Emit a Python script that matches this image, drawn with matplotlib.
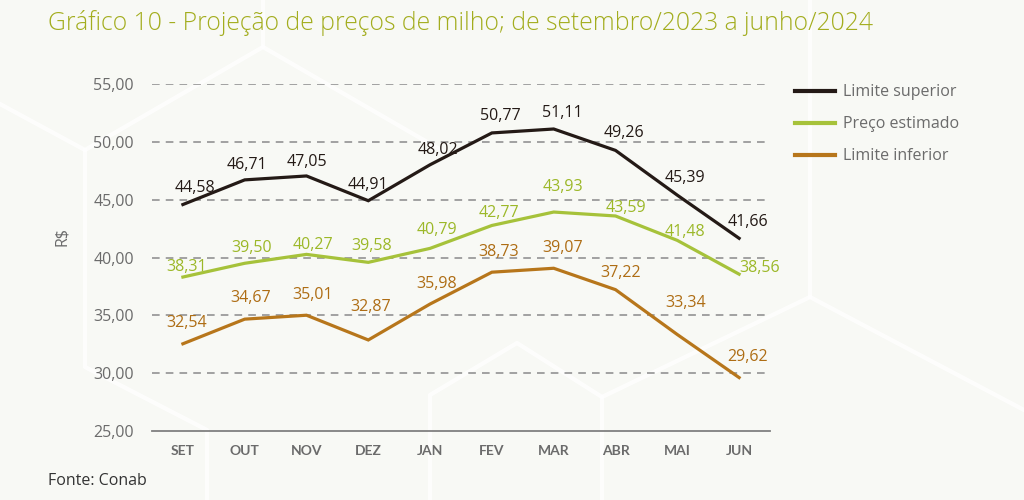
import matplotlib.pyplot as plt
import numpy as np

plt.rcParams['font.family'] = ['Open Sans', 'DejaVu Sans']

meses = ['SET', 'OUT', 'NOV', 'DEZ', 'JAN', 'FEV', 'MAR', 'ABR', 'MAI', 'JUN']
limite_superior = [44.58, 46.71, 47.05, 44.91, 48.02, 50.77, 51.11, 49.26, 45.39, 41.66]
preco_estimado = [38.31, 39.50, 40.27, 39.58, 40.79, 42.77, 43.93, 43.59, 41.48, 38.56]
limite_inferior = [32.54, 34.67, 35.01, 32.87, 35.98, 38.73, 39.07, 37.22, 33.34, 29.62]

# label offsets in pixels (dx, dy)
off_sup = [(12, 17), (2, 15), (0, 14), (0, 16), (8, 15), (8, 17), (9, 16), (8, 17), (8, 17), (9, 16)]
off_est = [(4, 10), (7, 15), (6, 9), (3, 16), (7, 18), (7, 12), (9, 25), (10, 8), (8, 8), (21, 6)]
off_inf = [(4, 21), (6, 21), (6, 20), (2, 33), (7, 20), (7, 20), (9, 20), (5, 17), (8, 32), (8, 21)]

cor_sup = '#241a16'
cor_est = '#a6c23a'
cor_inf = '#b7761b'
cor_txt_est = '#9cb828'
cor_txt_inf = '#ae6d14'
cinza = '#6b6b6b'

fig = plt.figure(figsize=(10.24, 5), dpi=100)
fig.patch.set_facecolor('#f8f9f5')

# faint hexagon pattern in the background (pixel coords, y from top)
hexes = [
    [(0, 104), (85, 150), (263, 47), (263, 0)],
    [(85, 150), (85, 367), (207, 430), (207, 500)],
    [(263, 47), (441, 150)],
    [(430, 500), (430, 395), (517, 343), (602, 397), (602, 500)],
    [(602, 397), (810, 297), (1024, 410)],
    [(810, 297), (810, 0)],
]
for seg in hexes:
    xs = [p[0] / 1024 for p in seg]
    ys = [1 - p[1] / 500 for p in seg]
    fig.add_artist(plt.Line2D(xs, ys, transform=fig.transFigure,
                              color='white', lw=3, alpha=0.8, zorder=0))

ax = fig.add_axes([152 / 1024, 1 - 431 / 500, 618 / 1024, 347 / 500])
ax.set_facecolor('none')
x = np.arange(len(meses))

series = [
    (limite_superior, cor_sup, cor_sup, off_sup, 'Limite superior'),
    (preco_estimado, cor_est, cor_txt_est, off_est, 'Preço estimado'),
    (limite_inferior, cor_inf, cor_txt_inf, off_inf, 'Limite inferior'),
]
for vals, cor, cor_txt, offs, nome in series:
    ax.plot(x, vals, color=cor, lw=2.3, label=nome, zorder=3,
            solid_joinstyle='miter')
    for xi, v, (dx, dy) in zip(x, vals, offs):
        ax.annotate(f'{v:.2f}'.replace('.', ','), (xi, v),
                    xytext=(dx, dy), textcoords='offset pixels',
                    ha='center', va='center', fontsize=11.5, color=cor_txt,
                    zorder=4)

ax.set_xlim(-0.5, 9.5)
ax.set_ylim(25, 55)
yt = np.arange(25, 56, 5)
ax.set_yticks(yt)
ax.set_yticklabels([f'{v:.2f}'.replace('.', ',') for v in yt])
for v in yt[1:]:
    ax.axhline(v, color='#8a8a8a', lw=1.1, ls=(0, (5, 4)), zorder=1)
ax.set_xticks(x)
ax.set_xticklabels(meses, fontweight='bold', fontsize=10, va='baseline',
                   family=['Lato', 'DejaVu Sans'])
ax.tick_params(axis='y', length=0, pad=13, labelsize=11.5, labelcolor=cinza)
ax.tick_params(axis='x', length=0, pad=17, labelcolor=cinza)
for s in ['top', 'right', 'left']:
    ax.spines[s].set_visible(False)
ax.spines['bottom'].set_color('#808080')
ax.spines['bottom'].set_linewidth(1.3)

fig.text(62 / 1024, 1 - 237 / 500, 'R$', rotation=90, ha='center',
         va='center', fontsize=11.5, color=cinza)

fig.text(48 / 1024, 1 - 23 / 500,
         'Gráfico 10 - Projeção de preços de milho; de setembro/2023 a junho/2024',
         ha='left', va='center', fontsize=17.8, color='#a3ad1e', fontweight='light')

fig.text(48 / 1024, 1 - 481 / 500, 'Fonte: Conab', ha='left', va='center',
         fontsize=11.5, color='#333333')

leg = fig.legend(loc='upper left', bbox_to_anchor=(781 / 1024, 1 - 70 / 500),
                 frameon=False, fontsize=11.5, handlelength=2.45,
                 handletextpad=0.55, labelspacing=1.0)
for t in leg.get_texts():
    t.set_color(cinza)
for l in leg.get_lines():
    l.set_linewidth(3)

fig.savefig('out.png', dpi=100, facecolor=fig.get_facecolor())
